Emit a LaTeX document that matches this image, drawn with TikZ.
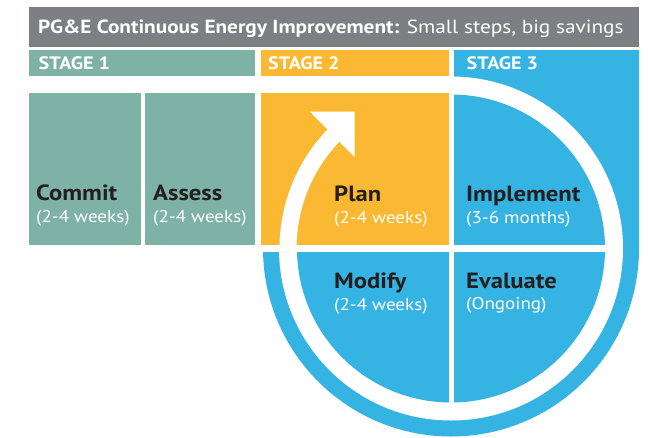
\documentclass[tikz,border=0pt]{standalone}
\usepackage{fontspec}
\setmainfont{PT Sans}[FakeStretch=1.12]
\definecolor{titlegray}{HTML}{7E7F83}
\definecolor{teal1}{HTML}{7DB2A5}
\definecolor{orange1}{HTML}{FBB833}
\definecolor{blue1}{HTML}{35B3E3}
\definecolor{dark1}{HTML}{231F20}
\begin{document}
\begin{tikzpicture}[x=1pt,y=-1pt,
  lbl/.style={anchor=base west, inner sep=0pt, text=dark1, font=\fontsize{22}{22}\selectfont\bfseries},
  sub/.style={anchor=base west, inner sep=0pt, text=white, font=\fontsize{17}{17}\selectfont},
  stagelbl/.style={anchor=base west, inner sep=0pt, text=white, font=\fontsize{18}{18}\selectfont\bfseries},
  ringw/.style={white, line width=17pt}]
\useasboundingbox (0,0) rectangle (648,437);
\coordinate (c) at (451,248.5);
% title bar
\fill[titlegray] (29,7) rectangle (639,47);
\node[anchor=base west, inner sep=0pt, text=white, font=\fontsize{19}{19}\selectfont] (title) at (38,33.3)
  {\textbf{PG\&E Continuous Energy Improvement:} Small steps, big savings};
% stage bars
\fill[teal1] (29,50) rectangle (255,76);
\fill[orange1] (261,50) rectangle (449,76);
\fill[blue1] (454,50) -- (639,50) -- (639,248.5) arc[start angle=0, end angle=180, radius=188] -- (454,248.5) -- cycle;
\node[stagelbl] (s1) at (38.5,69.3) {STAGE 1};
\node[stagelbl] (s2) at (268,69.3) {STAGE 2};
\node[stagelbl] (s3) at (466.5,69.3) {STAGE 3};
% stage 1 boxes
\fill[teal1] (29,93.3) rectangle (140.7,244.5);
\fill[teal1] (145,93.3) rectangle (255,244.5);
% plan box
\fill[orange1] (261,93.3) rectangle (449,245);
% ring and inner disc
\fill[white] (c) -- ++(-90:172) arc[start angle=-90, end angle=180, radius=172] -- cycle;
\fill[blue1] (c) -- ++(-90:154) arc[start angle=-90, end angle=180, radius=154] -- cycle;
% gaps
\fill[white] (449,90) rectangle (454,403);
\fill[white] (258,245) rectangle (622,252);
% arrow
\draw[ringw] (c) ++(180:163) arc[start angle=180, end angle=224, radius=163];
\fill[white] (310,111.7) -- (354.5,111.7) -- (354.5,157) -- cycle;
% labels
\node[lbl] (commit) at (36,200.5) {Commit};
\node[sub] (commitw) at (36,222.7) {(2-4 weeks)};
\node[lbl] (assess) at (153,200.5) {Assess};
\node[sub] (assessw) at (153,222.7) {(2-4 weeks)};
\node[lbl] (plan) at (334,201.5) {Plan};
\node[sub] (planw) at (334,223) {(2-4 weeks)};
\node[lbl] (impl) at (466,201.5) {Implement};
\node[sub] (implw) at (466,223) {(3-6 months)};
\node[lbl] (modify) at (334,288.5) {Modify};
\node[sub] (modifyw) at (334,310) {(2-4 weeks)};
\node[lbl] (eval) at (466,288) {Evaluate};
\node[sub] (evalw) at (466,309.5) {(Ongoing)};
\end{tikzpicture}
\end{document}
